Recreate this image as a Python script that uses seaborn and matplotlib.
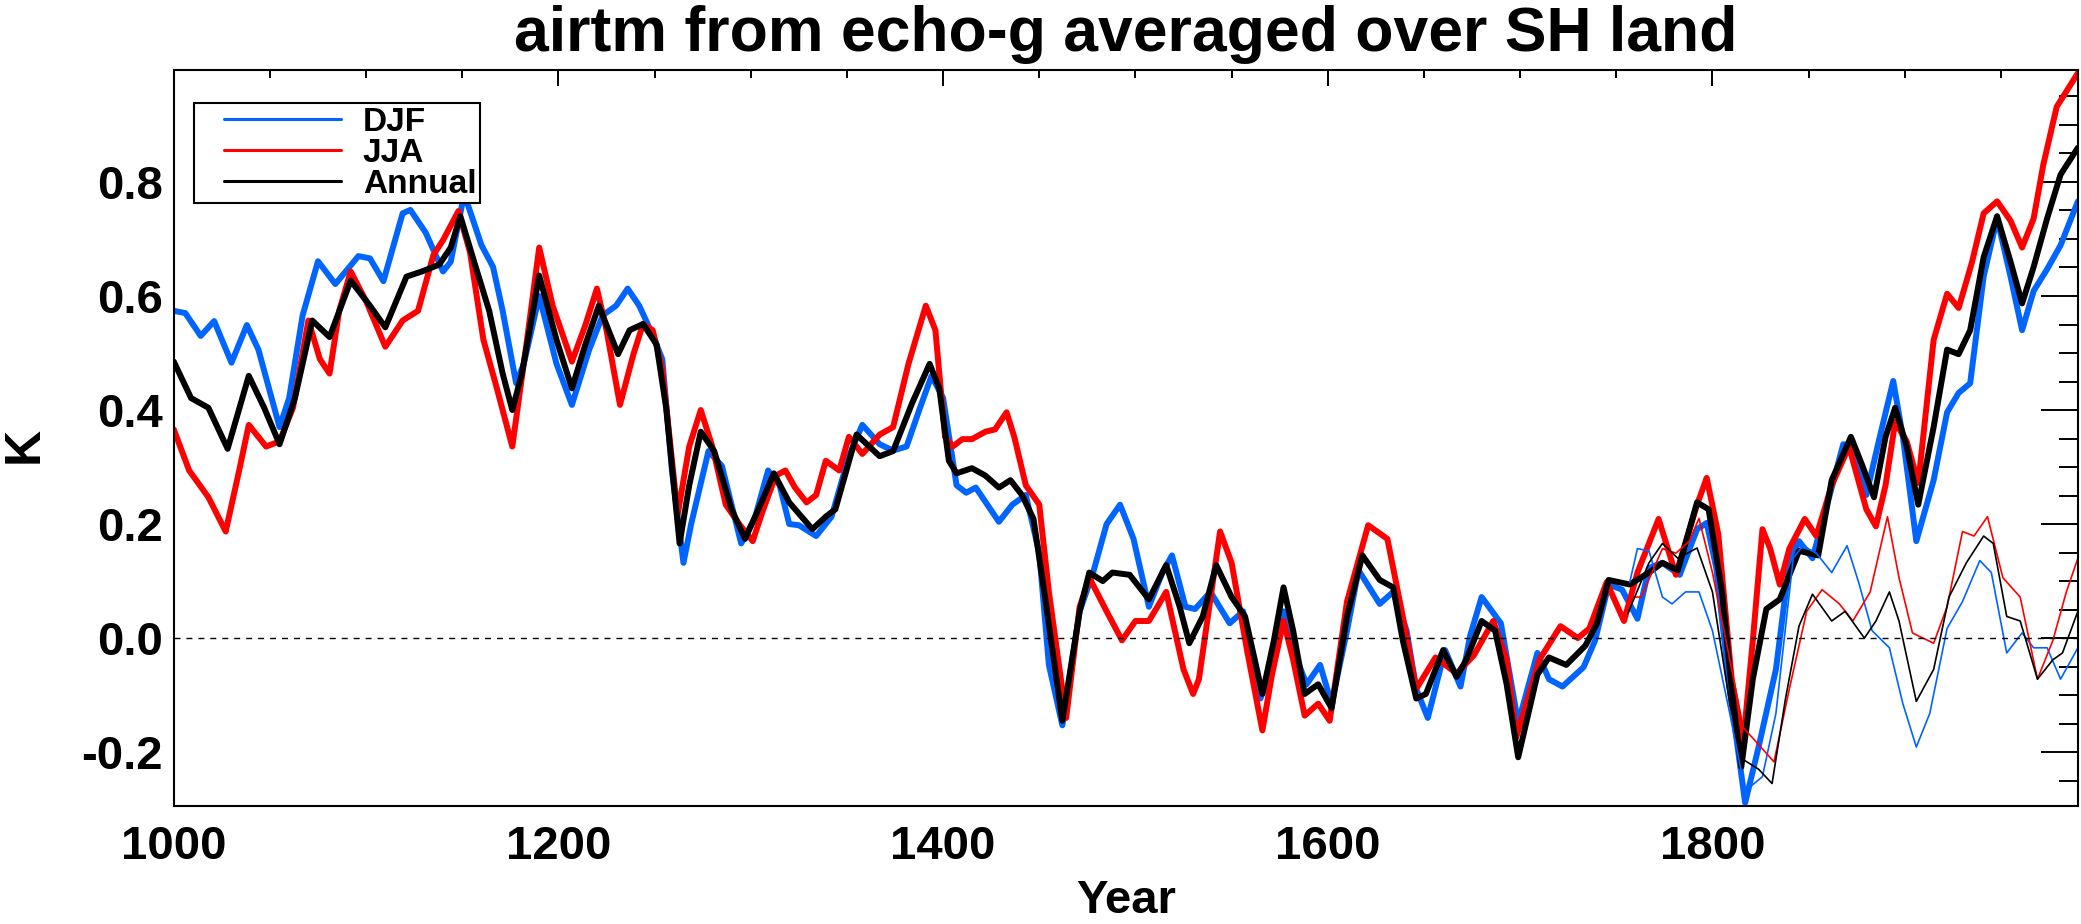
import matplotlib
matplotlib.use('Agg')
import matplotlib.pyplot as plt
import seaborn as sns
from matplotlib.lines import Line2D
from matplotlib.legend_handler import HandlerLine2D
from matplotlib.ticker import MultipleLocator, FormatStrFormatter

# ---------------- datos ----------------
djf_years = [1000, 1006, 1014, 1021, 1030, 1038, 1044, 1055, 1060, 1067, 1075, 1084, 1096, 1102, 1109,
             1119, 1123, 1131, 1140, 1144, 1151, 1160, 1166, 1171, 1178, 1182, 1190, 1199, 1207, 1216,
             1223, 1230, 1236, 1242, 1249, 1254, 1259, 1265, 1269, 1278, 1285, 1295, 1302, 1309, 1315,
             1320, 1325, 1334, 1342, 1351, 1358, 1367, 1374, 1381, 1388, 1394, 1400, 1407, 1412, 1417,
             1429, 1436, 1443, 1450, 1455, 1462, 1471, 1478, 1485, 1492, 1499, 1507, 1514, 1519, 1526,
             1531, 1539, 1549, 1556, 1565, 1571, 1577, 1580, 1589, 1596, 1602, 1610, 1616, 1627, 1634,
             1641, 1646, 1652, 1661, 1669, 1674, 1680, 1690, 1699, 1709, 1715, 1722, 1733, 1739, 1746,
             1753, 1761, 1767, 1774, 1783, 1792, 1797, 1802, 1809, 1817, 1824, 1833, 1840, 1845, 1852,
             1861, 1868, 1873, 1880, 1887, 1894, 1899, 1906, 1915, 1922, 1928, 1934, 1941, 1948, 1955,
             1961, 1967, 1974, 1981, 1990]
djf_vals = [0.574, 0.570, 0.530, 0.556, 0.483, 0.549, 0.506, 0.370, 0.421, 0.566, 0.661, 0.621, 0.670, 0.666, 0.626,
            0.745, 0.751, 0.711, 0.643, 0.660, 0.779, 0.689, 0.651, 0.574, 0.447, 0.481, 0.600, 0.481, 0.409, 0.506,
            0.566, 0.583, 0.613, 0.583, 0.532, 0.489, 0.294, 0.132, 0.200, 0.328, 0.302, 0.166, 0.209, 0.294, 0.268,
            0.200, 0.198, 0.179, 0.213, 0.319, 0.374, 0.340, 0.329, 0.336, 0.404, 0.460, 0.421, 0.268, 0.255, 0.264,
            0.204, 0.234, 0.251, 0.149, -0.047, -0.153, 0.047, 0.115, 0.200, 0.234, 0.174, 0.055, 0.115, 0.145, 0.055,
            0.051, 0.081, 0.026, 0.047, -0.106, -0.047, 0.047, -0.004, -0.081, -0.047, -0.115, 0.013, 0.119, 0.060, 0.081,
            0.013, -0.089, -0.140, -0.021, -0.085, 0.004, 0.072, 0.026, -0.149, -0.026, -0.072, -0.085, -0.051, -0.004, 0.094,
            0.085, 0.034, 0.123, 0.132, 0.111, 0.191, 0.202, 0.123, -0.089, -0.289, -0.191, -0.055, 0.132, 0.170, 0.140,
            0.251, 0.340, 0.336, 0.251, 0.353, 0.451, 0.353, 0.170, 0.277, 0.396, 0.430, 0.447, 0.634, 0.736, 0.634,
            0.540, 0.609, 0.647, 0.689, 0.766]

jja_years = [1000, 1008, 1018, 1027, 1034, 1039, 1048, 1055, 1062, 1070, 1076, 1081, 1086, 1092, 1100,
             1110, 1119, 1127, 1135, 1140, 1148, 1154, 1161, 1168, 1176, 1183, 1190, 1197, 1207, 1214,
             1220, 1225, 1232, 1239, 1244, 1249, 1254, 1262, 1268, 1274, 1280, 1287, 1294, 1301, 1306,
             1313, 1318, 1323, 1329, 1334, 1339, 1346, 1351, 1358, 1367, 1374, 1382, 1391, 1396, 1401,
             1405, 1410, 1415, 1422, 1427, 1433, 1437, 1443, 1450, 1455, 1464, 1471, 1476, 1485, 1493,
             1500, 1507, 1516, 1525, 1530, 1533, 1544, 1550, 1558, 1566, 1571, 1577, 1582, 1588, 1595,
             1601, 1610, 1621, 1631, 1639, 1646, 1656, 1667, 1676, 1686, 1693, 1698, 1710, 1721, 1730,
             1736, 1745, 1754, 1761, 1772, 1781, 1792, 1797, 1803, 1810, 1816, 1821, 1826, 1830, 1835,
             1840, 1848, 1854, 1862, 1871, 1880, 1885, 1890, 1895, 1901, 1907, 1915, 1922, 1928, 1935,
             1941, 1948, 1955, 1961, 1967, 1972, 1979, 1990]
jja_vals = [0.366, 0.294, 0.247, 0.187, 0.294, 0.374, 0.336, 0.345, 0.404, 0.557, 0.489, 0.464, 0.574, 0.643, 0.591,
            0.511, 0.557, 0.574, 0.672, 0.698, 0.749, 0.677, 0.523, 0.438, 0.336, 0.506, 0.685, 0.583, 0.485, 0.549,
            0.613, 0.540, 0.409, 0.498, 0.551, 0.540, 0.472, 0.217, 0.336, 0.400, 0.336, 0.234, 0.200, 0.170, 0.221,
            0.285, 0.294, 0.264, 0.238, 0.251, 0.311, 0.294, 0.353, 0.323, 0.357, 0.370, 0.481, 0.583, 0.540, 0.353,
            0.336, 0.349, 0.349, 0.362, 0.366, 0.396, 0.353, 0.268, 0.234, 0.081, -0.140, 0.055, 0.106, 0.047, -0.004,
            0.030, 0.030, 0.081, -0.055, -0.098, -0.072, 0.187, 0.132, -0.021, -0.162, -0.064, 0.030, -0.038, -0.136, -0.115,
            -0.145, 0.064, 0.198, 0.174, 0.038, -0.089, -0.034, -0.062, -0.030, 0.030, -0.038, -0.174, -0.038, 0.021, 0.000,
            0.017, 0.098, 0.030, 0.115, 0.209, 0.111, 0.234, 0.281, 0.183, -0.072, -0.183, -0.004, 0.191, 0.157, 0.094,
            0.157, 0.209, 0.179, 0.268, 0.336, 0.226, 0.196, 0.268, 0.379, 0.345, 0.272, 0.523, 0.604, 0.579, 0.660,
            0.745, 0.766, 0.732, 0.685, 0.736, 0.830, 0.932, 0.991]

ann_years = [1000, 1009, 1018, 1028, 1039, 1047, 1055, 1063, 1072, 1081, 1092, 1102, 1110, 1121, 1129,
             1138, 1144, 1149, 1157, 1164, 1171, 1176, 1181, 1190, 1199, 1207, 1214, 1221, 1231, 1237,
             1244, 1251, 1256, 1263, 1268, 1274, 1281, 1290, 1297, 1304, 1312, 1320, 1332, 1339, 1344,
             1355, 1367, 1374, 1384, 1393, 1398, 1403, 1407, 1415, 1422, 1429, 1435, 1441, 1447, 1453,
             1462, 1471, 1476, 1483, 1488, 1497, 1507, 1516, 1523, 1528, 1535, 1542, 1550, 1557, 1566,
             1572, 1577, 1582, 1588, 1595, 1602, 1610, 1618, 1627, 1634, 1639, 1646, 1651, 1660, 1667,
             1672, 1680, 1687, 1693, 1699, 1709, 1715, 1724, 1734, 1740, 1746, 1757, 1767, 1774, 1782,
             1792, 1798, 1805, 1810, 1815, 1821, 1828, 1835, 1845, 1855, 1862, 1872, 1878, 1884, 1890,
             1895, 1901, 1907, 1915, 1922, 1928, 1934, 1941, 1948, 1955, 1961, 1967, 1974, 1981, 1990]
ann_vals = [0.485, 0.421, 0.404, 0.332, 0.460, 0.404, 0.340, 0.421, 0.557, 0.528, 0.627, 0.583, 0.545, 0.634, 0.643,
            0.655, 0.685, 0.740, 0.651, 0.574, 0.464, 0.400, 0.464, 0.636, 0.523, 0.438, 0.515, 0.583, 0.498, 0.540,
            0.551, 0.515, 0.404, 0.166, 0.268, 0.362, 0.328, 0.226, 0.174, 0.226, 0.289, 0.238, 0.191, 0.213, 0.226,
            0.357, 0.319, 0.328, 0.413, 0.481, 0.438, 0.311, 0.289, 0.298, 0.285, 0.264, 0.277, 0.251, 0.209, 0.072,
            -0.145, 0.047, 0.115, 0.100, 0.115, 0.111, 0.068, 0.128, 0.055, -0.009, 0.038, 0.128, 0.072, 0.038, -0.098,
            -0.004, 0.089, 0.013, -0.098, -0.081, -0.123, 0.038, 0.145, 0.102, 0.089, -0.004, -0.106, -0.098, -0.021, -0.068,
            -0.038, 0.030, 0.013, -0.081, -0.209, -0.064, -0.034, -0.047, -0.013, 0.026, 0.102, 0.094, 0.115, 0.132, 0.119,
            0.238, 0.226, 0.081, -0.089, -0.226, -0.072, 0.051, 0.068, 0.153, 0.145, 0.277, 0.353, 0.302, 0.247, 0.353,
            0.404, 0.336, 0.234, 0.370, 0.506, 0.498, 0.540, 0.668, 0.740, 0.660, 0.587, 0.651, 0.736, 0.813, 0.860]

# curvas finas (desde ~1757)
djf2_years = [1757, 1761, 1767, 1774, 1779, 1786, 1793, 1800, 1809, 1817, 1826, 1833, 1842, 1847, 1854, 1862,
              1870, 1876, 1883, 1892, 1899, 1906, 1913, 1922, 1930, 1939, 1945, 1953, 1961, 1967, 1974, 1981, 1990]
djf2_vals = [0.098, 0.157, 0.153, 0.072, 0.060, 0.081, 0.081, 0.013, -0.132, -0.268, -0.243, -0.132, 0.140, 0.162, 0.149, 0.115,
             0.162, 0.098, 0.013, -0.017, -0.115, -0.191, -0.132, 0.017, 0.064, 0.136, 0.115, -0.026, 0.009, -0.017, -0.017, -0.072, -0.017]

jja2_years = [1757, 1763, 1774, 1781, 1788, 1793, 1800, 1809, 1816, 1823, 1832, 1840, 1849, 1857, 1866, 1873,
              1882, 1891, 1897, 1904, 1915, 1922, 1930, 1936, 1943, 1951, 1960, 1969, 1977, 1984, 1990]
jja2_vals = [0.072, 0.072, 0.157, 0.149, 0.170, 0.210, 0.115, -0.038, -0.157, -0.183, -0.217, -0.089, 0.047, 0.085, 0.060, 0.030,
             0.081, 0.213, 0.106, 0.009, -0.009, 0.055, 0.187, 0.179, 0.213, 0.106, 0.072, -0.072, -0.004, 0.081, 0.140]

ann2_years = [1756, 1767, 1774, 1782, 1792, 1800, 1809, 1816, 1824, 1831, 1838, 1845, 1852, 1862, 1869, 1879,
              1885, 1892, 1897, 1906, 1915, 1923, 1932, 1941, 1946, 1953, 1960, 1969, 1977, 1982, 1990]
ann2_vals = [0.043, 0.132, 0.166, 0.140, 0.158, 0.081, -0.115, -0.213, -0.230, -0.255, -0.106, 0.021, 0.077, 0.030, 0.047, 0.000,
             0.030, 0.081, 0.030, -0.111, -0.055, 0.072, 0.132, 0.179, 0.166, 0.038, 0.030, -0.072, -0.038, -0.026, 0.047]

labels = ['DJF', 'JJA', 'Annual']
colors = ['#0064ff', '#ff0000', '#000000']

# ---------------- estilo ----------------
sns.set_theme(style='white')
plt.rcParams['font.family'] = ['Liberation Sans', 'DejaVu Sans']
plt.rcParams['font.weight'] = 'bold'
plt.rcParams['axes.unicode_minus'] = False
for k in ['text.color', 'axes.labelcolor', 'xtick.color', 'ytick.color', 'axes.edgecolor']:
    plt.rcParams[k] = 'black'

fig = plt.figure(figsize=(20.81, 9.24), dpi=100)
ax = fig.add_axes([0.0835, 0.128, 0.915, 0.796])

# curvas gruesas
thick = []
for yrs, vals, c in [(djf_years, djf_vals, colors[0]),
                     (jja_years, jja_vals, colors[1]),
                     (ann_years, ann_vals, colors[2])]:
    sns.lineplot(x=yrs, y=vals, color=c, linewidth=4.3, ax=ax, sort=False, estimator=None)
    thick.append(ax.lines[-1])

# curvas finas
for yrs, vals, c in [(djf2_years, djf2_vals, colors[0]),
                     (jja2_years, jja2_vals, colors[1]),
                     (ann2_years, ann2_vals, colors[2])]:
    sns.lineplot(x=yrs, y=vals, color=c, linewidth=1.2, ax=ax, sort=False, estimator=None)

ax.axhline(0, color='black', linewidth=1, linestyle=(0, (4.3, 4.3)))

ax.set_xlim(1000, 1990)
ax.set_ylim(-0.294, 0.996)

ax.xaxis.set_major_locator(MultipleLocator(200))
ax.xaxis.set_minor_locator(MultipleLocator(50))
ax.yaxis.set_major_locator(MultipleLocator(0.2))
ax.yaxis.set_minor_locator(MultipleLocator(0.05))
ax.yaxis.set_major_formatter(FormatStrFormatter('%.1f'))

ax.tick_params(axis='both', which='both', direction='in', top=True, right=True,
               color='black', labelcolor='black', width=1.4, labelsize=34)
ax.tick_params(axis='x', which='major', length=11.5, pad=14)
ax.tick_params(axis='x', which='minor', length=5.8)
ax.tick_params(axis='y', which='major', length=27, pad=8)
ax.tick_params(axis='y', which='minor', length=13.7)

for s in ax.spines.values():
    s.set_color('black')
    s.set_linewidth(1.5)

ax.set_title('airtm from echo-g averaged over SH land', fontsize=45, fontweight='bold', pad=14)
ax.set_xlabel('Year', fontsize=34, fontweight='bold')
ax.set_ylabel('K', fontsize=36, fontweight='bold')
ax.xaxis.set_label_coords(0.5, -0.099)
ax.yaxis.set_label_coords(-0.066, 0.49)

leg = ax.legend(handles=thick, labels=labels, loc='upper left', bbox_to_anchor=(0.0105, 0.955),
                borderaxespad=0, prop={'weight': 'bold', 'size': 24}, frameon=True, fancybox=False,
                edgecolor='black', framealpha=1, borderpad=0.1, labelspacing=0.0,
                handlelength=5.12, handletextpad=-0.15, numpoints=2,
                handler_map={Line2D: HandlerLine2D(marker_pad=0.8, numpoints=2)})
leg.get_frame().set_linewidth(1.5)
for h in leg.get_lines():
    h.set_linewidth(2.2)

fig.savefig('out.png', dpi=100)
